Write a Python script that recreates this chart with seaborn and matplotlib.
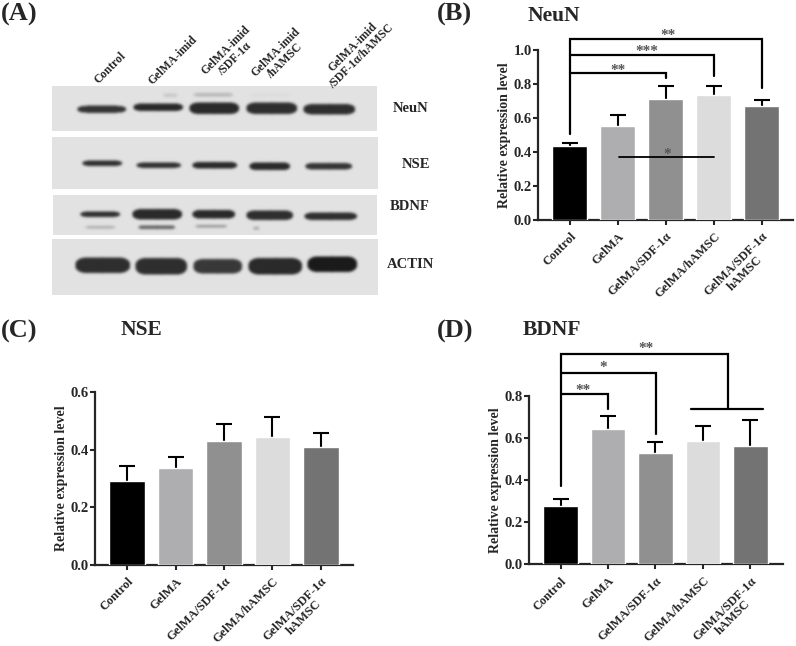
import numpy as np
import pandas as pd
import seaborn as sns
import matplotlib.pyplot as plt

sns.set_style("ticks")
plt.rcParams['font.family'] = ['Liberation Serif', 'DejaVu Serif']
plt.rcParams['font.weight'] = 'bold'
plt.rcParams['axes.labelweight'] = 'bold'

W, H = 796, 646

# bar chart data
groups = ["Control", "GelMA", "GelMA/SDF-1α", "GelMA/hAMSC", "GelMA/SDF-1α\nhAMSC"]
bar_colors = ["#000000", "#adaeb2", "#909090", "#dcdcdc", "#737373"]

neun_vals = [0.435, 0.553, 0.712, 0.733, 0.673]
neun_tops = [0.455, 0.620, 0.790, 0.790, 0.706]
nse_vals = [0.290, 0.338, 0.432, 0.443, 0.411]
nse_tops = [0.345, 0.375, 0.490, 0.514, 0.457]
bdnf_vals = [0.279, 0.643, 0.529, 0.587, 0.560]
bdnf_tops = [0.310, 0.706, 0.579, 0.657, 0.688]

# blot panels: left, right, top, bottom
blot_boxes = {
    "NeuN": (52, 377, 86, 131),
    "NSE": (52, 378, 137, 189),
    "BDNF": (53, 377, 195, 235),
    "ACTIN": (52, 378, 239, 295),
}
# bands: x0, x1, y centre, half height, darkness
blot_bands = {
    "NeuN": [(77, 126, 109, 3.6, 0.68), (133, 183, 107, 4, 0.72), (189, 239, 108, 6, 0.72),
             (246, 297, 108, 6, 0.70), (303, 355, 109, 5.5, 0.70),
             (163, 177, 95, 2, 0.10), (193, 233, 94.5, 1.8, 0.17), (250, 290, 95, 1.5, 0.03)],
    "NSE": [(82, 122, 163, 2.8, 0.70), (136, 181, 165, 2.8, 0.70), (192, 237, 165, 3.5, 0.72),
            (249, 290, 166, 4, 0.72), (305, 352, 166, 3.5, 0.68)],
    "BDNF": [(80, 120, 214, 2.8, 0.70), (132, 182, 214, 5.5, 0.72), (192, 235, 214, 4.5, 0.72),
             (246, 293, 215, 5, 0.70), (304, 357, 216, 4, 0.70),
             (85, 115, 227, 1.2, 0.22), (138, 175, 227, 2, 0.50), (195, 227, 226, 1.3, 0.30),
             (253, 259, 228, 1.3, 0.25)],
    "ACTIN": [(75, 130, 265, 8, 0.70), (135, 187, 266, 8.5, 0.70), (193, 242, 266, 7.5, 0.66),
              (248, 302, 266, 8.5, 0.72), (307, 357, 264, 8, 0.78)],
}
blot_names = ["NeuN", "NSE", "BDNF", "ACTIN"]
blot_name_pos = [(411, 108), (416, 165), (410, 207), (410, 264)]
lane_labels = ["Control", "GelMA-imid", "GelMA-imid\n/SDF-1α", "GelMA-imid\n/hAMSC", "GelMA-imid\n/SDF-1α/hAMSC"]
lane_label_pos = [(110, 68), (173, 60), (230, 55), (280, 57), (357, 52)]

fig = plt.figure(figsize=(W / 100, H / 100), dpi=100)
bg = fig.add_axes([0, 0, 1, 1])
bg.set_xlim(0, W)
bg.set_ylim(H, 0)
bg.axis("off")

# small gaussian so the bands look soft like a scanned film
kernel = np.exp(-0.5 * (np.arange(-6, 7) / 2.6) ** 2)
kernel = kernel / kernel.sum()


def draw_blot(name):
    x0, x1, y0, y1 = blot_boxes[name]
    xs = np.arange(x0, x1, 0.5)
    ys = np.arange(y0, y1, 0.5)
    xx, yy = np.meshgrid(xs, ys)
    dens = np.zeros(xx.shape)
    for a, b, yc, hh, dark in blot_bands[name]:
        # bands get thinner towards their ends
        u = np.clip(np.abs(xx - (a + b) / 2) / ((b - a) / 2), 0, 1)
        local_h = hh * np.sqrt(1 - u ** 6)
        inside = (np.abs(yy - yc) <= local_h) & (u < 1)
        dens += dark * inside
    dens = np.pad(dens, 6, mode="edge")
    dens = np.apply_along_axis(lambda r: np.convolve(r, kernel, mode="same"), 1, dens)
    dens = np.apply_along_axis(lambda c: np.convolve(c, kernel, mode="same"), 0, dens)
    dens = dens[6:-6, 6:-6]
    img = 0.885 - dens
    bg.imshow(img, cmap="gray", vmin=0, vmax=1, extent=(x0, x1, y1, y0),
              aspect="auto", interpolation="bilinear")


for n in blot_names:
    draw_blot(n)
bg.set_xlim(0, W)
bg.set_ylim(H, 0)

for n, (x, y) in zip(blot_names, blot_name_pos):
    bg.text(x, y, n, fontsize=10.5, ha="center", va="center")
for lab, (x, y) in zip(lane_labels, lane_label_pos):
    bg.text(x, y, lab, fontsize=8.5, rotation=45, ha="center", va="center",
            linespacing=1.0, multialignment="center")

# panel letters and titles
for txt, x, y in [("(A)", 1, 14), ("(B)", 437, 14), ("(C)", 1, 331), ("(D)", 437, 331)]:
    bg.text(x, y, txt, fontsize=19, ha="left", va="center")
for txt, x, y in [("NeuN", 554, 16), ("NSE", 141, 330), ("BDNF", 552, 330)]:
    bg.text(x, y, txt, fontsize=15.5, ha="center", va="center")


def bar_panel(left, right, y_top, y_base, xlim, ylim, yticks, vals, tops):
    ax = fig.add_axes([left / W, 1 - y_base / H, (right - left) / W, (y_base - y_top) / H])
    df = pd.DataFrame({"group": groups, "value": vals})
    sns.barplot(data=df, x="group", y="value", hue="group", palette=bar_colors,
                order=groups, width=0.73, errorbar=None, legend=False, ax=ax, zorder=3)
    pos = np.arange(len(groups))
    errs = np.array(tops) - np.array(vals)
    eb = ax.errorbar(pos, vals, yerr=[np.zeros(len(vals)), errs], fmt="none", ecolor="black",
                     elinewidth=1.5, capsize=5.8, capthick=1.5, zorder=2)
    eb[1][0].set_visible(False)  # no cap at the bar top
    ax.set_xlim(*xlim)
    ax.set_ylim(*ylim)
    ax.set_yticks(yticks)
    ax.set_yticklabels([f"{t:.1f}" for t in yticks], fontsize=10.5)
    ax.set_xticks(pos)
    ax.set_xticklabels(groups, fontsize=9, rotation=45, ha="right", va="top",
                       rotation_mode="anchor", linespacing=1.0, multialignment="center")
    ax.set_xlabel("")
    ax.set_ylabel("Relative expression level", fontsize=10, labelpad=2)
    ax.tick_params(axis="y", length=3.6, width=1.5, pad=1)
    ax.tick_params(axis="x", length=3.6, width=1.5, pad=4)
    ax.patch.set_alpha(0)
    sns.despine(ax=ax)
    for s in ["left", "bottom"]:
        ax.spines[s].set_linewidth(1.6)
    return ax


def bracket(ax, xs, ys, lw=1.6):
    ax.plot(xs, ys, color="black", lw=lw, clip_on=False, zorder=5, solid_joinstyle="miter")


def stars(ax, x, y, s):
    ax.text(x, y, s, fontsize=11, color="#555555", ha="center", va="center", clip_on=False, zorder=5)


ax_b = bar_panel(538, 793, 50, 220, (-0.667, 4.65), (0, 1.0), [0, 0.2, 0.4, 0.6, 0.8, 1.0], neun_vals, neun_tops)
bracket(ax_b, [0, 0, 4, 4], [0.504, 1.065, 1.065, 0.775])
bracket(ax_b, [0, 3, 3], [0.97, 0.97, 0.85])
bracket(ax_b, [0, 2, 2], [0.867, 0.867, 0.833])
bracket(ax_b, [1.03, 3], [0.369, 0.369], lw=1.3)
stars(ax_b, 2.04, 1.085, "**")
stars(ax_b, 1.6, 0.99, "***")
stars(ax_b, 1.01, 0.88, "**")
stars(ax_b, 2.02, 0.385, "*")

ax_c = bar_panel(95, 353, 392.3, 564.7, (-0.66, 4.66), (0, 0.6), [0, 0.2, 0.4, 0.6], nse_vals, nse_tops)

ax_d = bar_panel(529.3, 783, 396, 564.3, (-0.66, 4.69), (0, 0.8), [0, 0.2, 0.4, 0.6, 0.8], bdnf_vals, bdnf_tops)
bracket(ax_d, [0, 0, 3.52, 3.52], [0.374, 1.0, 1.0, 0.738])
bracket(ax_d, [0, 2.02, 2.02], [0.911, 0.911, 0.62])
bracket(ax_d, [0, 1.0, 1.0], [0.81, 0.81, 0.737])
bracket(ax_d, [2.74, 4.27], [0.738, 0.738])
stars(ax_d, 1.81, 1.025, "**")
stars(ax_d, 0.9, 0.935, "*")
stars(ax_d, 0.48, 0.825, "**")

fig.savefig("out.png", dpi=100)
